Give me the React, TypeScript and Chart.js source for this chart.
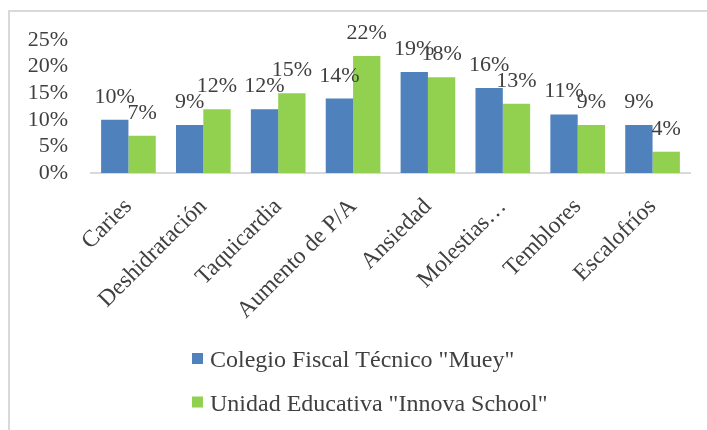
import React, { useEffect, useRef } from "react";
import { Chart, registerables } from "chart.js";

Chart.register(...registerables);

const categories = [
  "Caries",
  "Deshidratación",
  "Taquicardia",
  "Aumento de P/A",
  "Ansiedad",
  "Molestias…",
  "Temblores",
  "Escalofríos",
];
const seriesNames = ['Colegio Fiscal Técnico "Muey"', 'Unidad Educativa "Innova School"'];
const muey = [10, 9, 12, 14, 19, 16, 11, 9];
const innova = [7, 12, 15, 22, 18, 13, 9, 4];
const colors = ["#4F81BD", "#92D050"];
const FONT = "'Liberation Serif', 'Times New Roman', serif";
const TEXT = "#404040";

const decorPlugin = {
  id: "decor",
  beforeDraw(chart: any) {
    const ctx = chart.ctx;
    ctx.save();
    ctx.fillStyle = "#ffffff";
    ctx.fillRect(0, 0, chart.width, chart.height);
    ctx.strokeStyle = "#d9d9d9";
    ctx.lineWidth = 2;
    ctx.beginPath();
    ctx.moveTo(9, chart.height);
    ctx.lineTo(9, 11);
    ctx.lineTo(chart.width, 11);
    ctx.stroke();
    ctx.restore();
  },
  afterDatasetsDraw(chart: any) {
    const ctx = chart.ctx;
    ctx.save();
    ctx.font = `22px ${FONT}`;
    ctx.fillStyle = TEXT;
    ctx.textAlign = "center";
    ctx.textBaseline = "alphabetic";
    chart.data.datasets.forEach((ds: any, di: number) => {
      const meta = chart.getDatasetMeta(di);
      meta.data.forEach((bar: any, i: number) => {
        ctx.fillText(ds.data[i] + "%", bar.x, bar.y - 17);
      });
    });
    // legend
    const rows = [359, 402.5];
    ctx.font = `24px ${FONT}`;
    chart.data.datasets.forEach((ds: any, di: number) => {
      const y = rows[di];
      ctx.fillStyle = ds.backgroundColor;
      ctx.fillRect(192, y - 6, 11, 11);
      ctx.fillStyle = TEXT;
      ctx.textAlign = "left";
      ctx.textBaseline = "alphabetic";
      ctx.fillText(ds.label, 210, y + 8);
    });
    ctx.restore();
  },
};

export default function App() {
  const ref = useRef<HTMLCanvasElement | null>(null);
  useEffect(() => {
    if (!ref.current) return;
    const chart = new Chart(ref.current, {
      type: "bar",
      data: {
        labels: categories,
        datasets: [
          { label: seriesNames[0], data: muey, backgroundColor: colors[0] },
          { label: seriesNames[1], data: innova, backgroundColor: colors[1] },
        ],
      },
      options: {
        responsive: false,
        animation: false,
        layout: { padding: { left: 0, top: 40, right: 17, bottom: 0 } },
        plugins: { legend: { display: false }, tooltip: { enabled: false } },
        datasets: { bar: { categoryPercentage: 0.73, barPercentage: 1 } },
        scales: {
          x: {
            grid: { display: false, drawTicks: false },
            border: { display: true, color: "#d9d9d9", width: 2 },
            ticks: {
              font: { family: FONT, size: 23.5 },
              color: TEXT,
              maxRotation: 45,
              minRotation: 45,
              padding: 20,
              autoSkip: false,
            },
            afterFit(scale: any) {
              scale.height = 430 - 173;
            },
          },
          y: {
            min: 0,
            max: 25,
            grid: { display: false, drawTicks: false },
            border: { display: false },
            ticks: {
              stepSize: 5,
              autoSkip: false,
              font: { family: FONT, size: 22 },
              color: TEXT,
              padding: 23,
              callback: (v: any) => v + "%",
            },
            afterFit(scale: any) {
              scale.width = 91;
            },
          },
        },
      },
      plugins: [decorPlugin],
    });
    return () => chart.destroy();
  }, []);
  return (
    <div style={{ position: "absolute", left: 0, top: 0, width: 707, height: 430 }}>
      <canvas ref={ref} width={707} height={430} style={{ display: "block" }} />
    </div>
  );
}
